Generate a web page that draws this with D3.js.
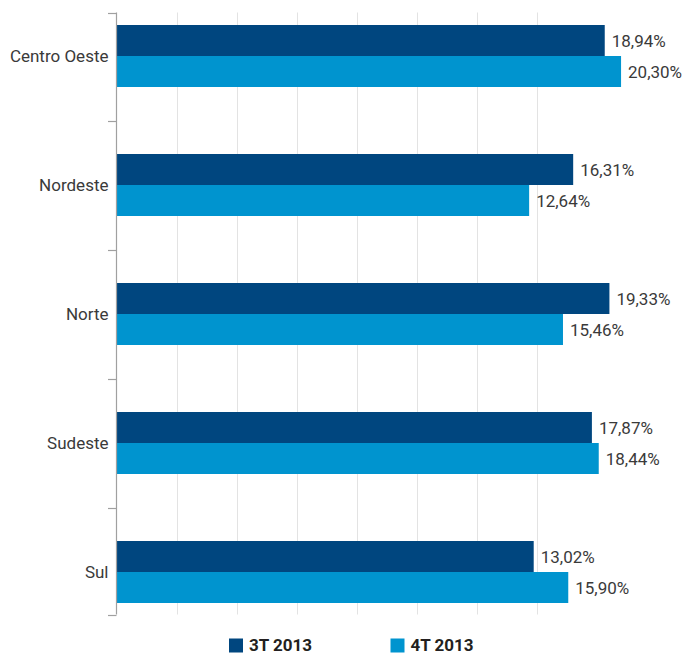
<!DOCTYPE html>
<html>
<head>
<meta charset="utf-8">
<script src="https://cdn.jsdelivr.net/npm/d3@7"></script>
<style>
  html, body { margin: 0; padding: 0; background: #fff; }
  svg { display: block; }
  text { font-family: Roboto, "Liberation Sans", sans-serif; }
</style>
</head>
<body>
<svg id="chart" width="689" height="653"></svg>
<script>
// Regional values, two quarters
const regions = ["Centro Oeste", "Nordeste", "Norte", "Sudeste", "Sul"];
const q3 = [18.94, 16.31, 19.33, 17.87, 13.02];
const q4 = [20.30, 12.64, 15.46, 18.44, 15.90];
const seriesNames = ["3T 2013", "4T 2013"];
const seriesColors = ["#00467f", "#0094cf"];

const svg = d3.select("#chart");

// horizontal value scale (axis starts below zero, 5-unit grid step)
const xMin = -21.73, xMax = 24.27;
const x = d3.scaleLinear().domain([xMin, xMax]).range([116.7, 116.7 + (xMax - xMin) * 12]);
const gridVals = d3.range(xMin + 5, 14, 5);

// category bands
const y = d3.scaleBand().domain(regions).range([-8.5, 636.5]).paddingInner(0).paddingOuter(0);
const barH = 31;
const axisTop = 12.5, axisBottom = 614.5;

// vertical gridlines
svg.append("g").selectAll("line").data(gridVals).join("line")
  .attr("x1", d => Math.round(x(d)) + 0.5).attr("x2", d => Math.round(x(d)) + 0.5)
  .attr("y1", axisTop).attr("y2", axisBottom)
  .attr("stroke", "#e3e3e3").attr("stroke-width", 1);

// bars with value labels
const rows = regions.map((r, i) => ({ r, v: [q3[i], q4[i]] }));
const gBars = svg.append("g");
rows.forEach(row => {
  const c = y(row.r) + y.bandwidth() / 2;
  row.v.forEach((v, k) => {
    const top = c - barH + k * barH;
    gBars.append("rect")
      .attr("x", x(xMin)).attr("y", top)
      .attr("width", x(v) - x(xMin)).attr("height", barH)
      .attr("fill", seriesColors[k]);
    gBars.append("text")
      .attr("x", x(v) + 7).attr("y", top + barH / 2 + 6)
      .attr("font-size", 17).attr("fill", "#3a3a3a")
      .text(v.toFixed(2).replace(".", ",") + "%");
  });
});

// category axis
const gAxis = svg.append("g");
gAxis.append("line")
  .attr("x1", 116.5).attr("x2", 116.5).attr("y1", axisTop).attr("y2", axisBottom)
  .attr("stroke", "#a0a0a0").attr("stroke-width", 1.2);
const tickYs = [axisTop].concat(regions.slice(1).map(r => y(r))).concat([axisBottom]);
gAxis.selectAll("line.tick").data(tickYs).join("line").attr("class", "tick")
  .attr("x1", 108).attr("x2", 116.5)
  .attr("y1", d => Math.round(d) + 0.5).attr("y2", d => Math.round(d) + 0.5)
  .attr("stroke", "#a0a0a0").attr("stroke-width", 1.2);
gAxis.selectAll("text").data(regions).join("text")
  .attr("x", 108.5).attr("y", d => y(d) + y.bandwidth() / 2 + 6)
  .attr("text-anchor", "end").attr("font-size", 17).attr("fill", "#3a3a3a")
  .text(d => d);

// legend
const legendX = [229, 390.5];
const gLeg = svg.append("g");
seriesNames.forEach((n, k) => {
  gLeg.append("rect").attr("x", legendX[k]).attr("y", 638.5).attr("width", 14).attr("height", 14)
    .attr("fill", seriesColors[k]);
  gLeg.append("text").attr("x", legendX[k] + 20).attr("y", 651)
    .attr("font-size", 17).attr("font-weight", "bold").attr("fill", "#231f20")
    .text(n);
});
</script>
</body>
</html>
